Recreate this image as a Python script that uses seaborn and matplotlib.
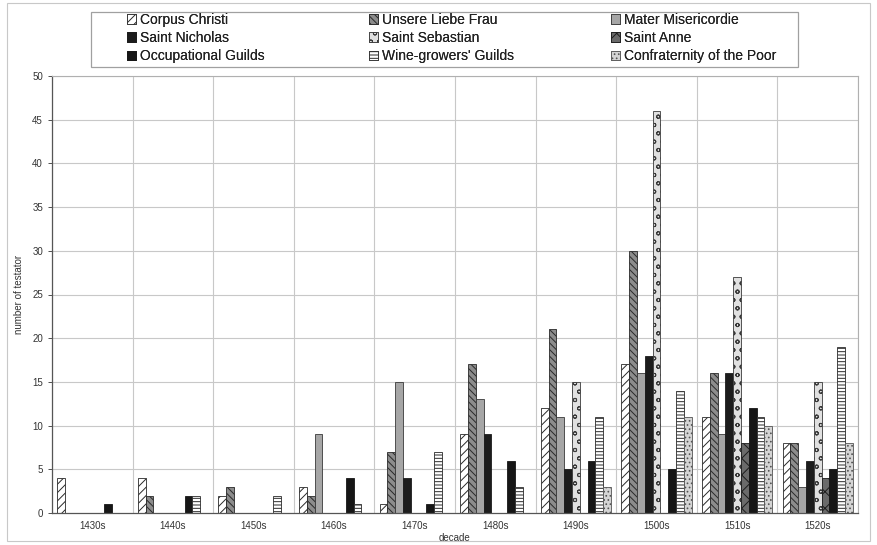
import matplotlib
matplotlib.use("Agg")
import matplotlib.pyplot as plt
import matplotlib.patches as mpatches
import seaborn as sns
import pandas as pd

# data
decades = ["1430s", "1440s", "1450s", "1460s", "1470s",
           "1480s", "1490s", "1500s", "1510s", "1520s"]
groups = ["Corpus Christi", "Unsere Liebe Frau", "Mater Misericordie",
          "Saint Nicholas", "Saint Sebastian", "Saint Anne",
          "Occupational Guilds", "Wine-growers' Guilds", "Confraternity of the Poor"]

corpus_christi = [4, 4, 2, 3, 1, 9, 12, 17, 11, 8]
unsere_liebe_frau = [0, 2, 3, 2, 7, 17, 21, 30, 16, 8]
mater_misericordie = [0, 0, 0, 9, 15, 13, 11, 16, 9, 3]
saint_nicholas = [0, 0, 0, 0, 4, 9, 5, 18, 16, 6]
saint_sebastian = [0, 0, 0, 0, 0, 0, 15, 46, 27, 15]
saint_anne = [0, 0, 0, 0, 0, 0, 0, 0, 8, 4]
occupational = [1, 2, 0, 4, 1, 6, 6, 5, 12, 5]
wine_growers = [0, 2, 2, 1, 7, 3, 11, 14, 11, 19]
poor = [0, 0, 0, 0, 0, 0, 3, 11, 10, 8]

series = [corpus_christi, unsere_liebe_frau, mater_misericordie, saint_nicholas,
          saint_sebastian, saint_anne, occupational, wine_growers, poor]

rows = []
for g, vals in zip(groups, series):
    for d, v in zip(decades, vals):
        rows.append({"decade": d, "group": g, "count": v})
df = pd.DataFrame(rows)

# fill / hatch per series (greyscale print look)
styles = [
    dict(fc="white", hatch="////", ec="#2a2a2a"),
    dict(fc="#8c8c8c", hatch="\\\\\\\\\\", ec="#2a2a2a"),
    dict(fc="#a6a6a6", hatch="", ec="#3a3a3a"),
    dict(fc="#1c1c1c", hatch="", ec="#1c1c1c"),
    dict(fc="#e0e0e0", hatch="oo", ec="#3a3a3a"),
    dict(fc="#6a6a6a", hatch="xx", ec="#1c1c1c"),
    dict(fc="#161616", hatch="", ec="#161616"),
    dict(fc="white", hatch="-----", ec="#2a2a2a"),
    dict(fc="#d4d4d4", hatch="....", ec="#555555"),
]

sns.set_style("white")
plt.rcParams["font.family"] = ["Liberation Sans", "DejaVu Sans"]
plt.rcParams["hatch.linewidth"] = 0.7

W, H = 878, 545
fig = plt.figure(figsize=(W / 100, H / 100), dpi=100)
ax = fig.add_axes([52 / W, 1 - 513 / H, (858 - 52) / W, (513 - 76) / H])

sns.barplot(data=df, x="decade", y="count", hue="group", order=decades,
            hue_order=groups, width=0.87, gap=0, legend=False, ax=ax,
            linewidth=0.6)

for cont, st in zip(ax.containers, styles):
    for bar in cont:
        bar.set_facecolor(st["fc"])
        bar.set_hatch(st["hatch"])
        bar.set_edgecolor(st["ec"])
        bar.set_linewidth(0.6)
        if bar.get_height() == 0:
            bar.set_visible(False)

ax.set_ylim(0, 50)
ax.set_xlim(-0.5, len(decades) - 0.5)
ax.set_yticks(range(0, 51, 5))
for y in range(5, 51, 5):
    ax.axhline(y, color="#c8c8c8", lw=0.8, zorder=0)
for x in range(len(decades) + 1):
    ax.axvline(x - 0.5, color="#c8c8c8", lw=0.8, zorder=0)

ax.tick_params(axis="y", labelsize=7, colors="#333333", length=3, width=0.6,
               direction="out", left=True)
ax.tick_params(axis="x", labelsize=7, colors="#333333", length=0, pad=6)
ax.set_xlabel("decade", fontsize=7, color="#333333", labelpad=1)
ax.set_ylabel("number of testator", fontsize=7, color="#333333", labelpad=6)

for side in ["top", "right"]:
    ax.spines[side].set_color("#b0b0b0")
    ax.spines[side].set_linewidth(0.8)
for side in ["left", "bottom"]:
    ax.spines[side].set_color("#555555")
    ax.spines[side].set_linewidth(0.9)

# legend: three fixed-width columns, row-major like the original
handles = [mpatches.Patch(facecolor=st["fc"], hatch=st["hatch"], edgecolor=st["ec"],
                          linewidth=0.6, label=g) for g, st in zip(groups, styles)]
col_x = [124, 366, 608]
for c in range(3):
    idx = [c, c + 3, c + 6]
    leg = fig.legend([handles[i] for i in idx], [groups[i] for i in idx],
                     loc="upper left", bbox_to_anchor=(col_x[c] / W, 1 - 10 / H),
                     fontsize=10, frameon=False, handlelength=0.65, handleheight=0.65,
                     handletextpad=0.3, labelspacing=0.3, borderpad=0.2, borderaxespad=0)
    for t in leg.get_texts():
        t.set_color("#222222")
    fig.add_artist(leg)

fig.patches.append(mpatches.Rectangle((91 / W, 1 - 67 / H), 707 / W, 55 / H,
                                      transform=fig.transFigure, fill=False,
                                      edgecolor="#a0a0a0", linewidth=0.9))

# outer chart frame
fig.patches.append(mpatches.Rectangle((7 / W, 4 / H), 863 / W, 538 / H,
                                      transform=fig.transFigure, fill=False,
                                      edgecolor="#c8c8c8", linewidth=0.8))

fig.savefig("out.png", dpi=100, facecolor="white")
